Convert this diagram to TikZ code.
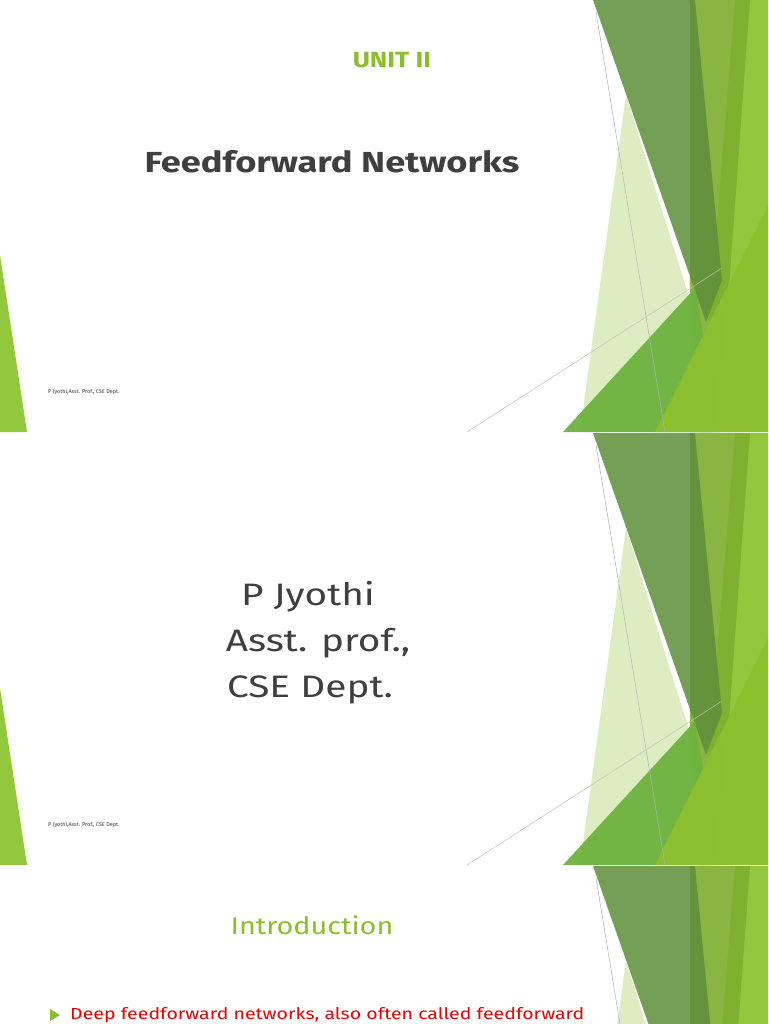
\documentclass[tikz,border=0pt]{standalone}
\usepackage{fontspec}
\setmainfont{Fira Sans}
\definecolor{dkg}{HTML}{5E8E3A}
\definecolor{mdg}{HTML}{7FAE2E}
\definecolor{brg}{HTML}{93C83E}
\definecolor{lig}{HTML}{C9E09A}
\definecolor{trg}{HTML}{6DB33F}
\definecolor{btr}{HTML}{8DC02F}
\definecolor{ttl}{HTML}{8BBE2D}
\definecolor{txt}{HTML}{3F3F3F}
\newcommand{\facetdecor}{%
  \fill[brg] (735,0) -- (768,0) -- (768,432) -- (700,432) -- cycle;
  \fill[mdg, opacity=.9] (690,0) -- (750,0) -- (728,300) -- (712,432) -- (690,432) -- cycle;
  \fill[dkg, opacity=.85] (593,0) -- (695,0) -- (722,280) -- (706,322) -- cycle;
  \fill[lig, opacity=.6] (626,95) -- (690,300) -- (700,432) -- (580,432) -- cycle;
  \fill[trg, opacity=.95] (563,432) -- (695,288) -- (720,432) -- cycle;
  \fill[btr, opacity=.95] (655,432) -- (768,205) -- (768,432) -- cycle;
  \draw[gray!60, line width=.5pt] (596,12) -- (665,432);
  \draw[gray!50, line width=.5pt] (467,432) -- (722,268);
  \fill[brg] (0,255) -- (27,432) -- (0,432) -- cycle;
}
\tikzset{foot/.style={font=\fontsize{5.5}{6}\selectfont, text=txt, anchor=west, inner sep=0},
  big/.style={font=\fontsize{31}{34}\selectfont, text=txt, xscale=1.25}}
\begin{document}
\begin{tikzpicture}[x=1pt,y=-1pt]
\useasboundingbox (0,0) rectangle (768,1024);
\fill[white] (0,0) rectangle (768,1024);
\begin{scope}
  \clip (0,0) rectangle (768,432);
  \facetdecor
\end{scope}
\begin{scope}[yshift=-433pt]
  \clip (0,0) rectangle (768,432);
  \facetdecor
\end{scope}
\begin{scope}[yshift=-866pt]
  \clip (0,0) rectangle (768,158);
  \facetdecor
\end{scope}
\node[xscale=1.2] (unit) at (392,60) {\fontsize{22}{26}\selectfont\bfseries\color{ttl}UNIT II};
\node[xscale=1.25] (title) at (332,162) {\fontsize{29}{34}\selectfont\bfseries\color{txt}Feedforward Networks};
\node[foot] (f1) at (48,392) {P Jyothi,Asst. Prof., CSE Dept.};
\node[big] (n1) at (308,597) {P Jyothi};
\node[big] (n2) at (318,643) {Asst. prof.,};
\node[big] (n3) at (310,690) {CSE Dept.};
\node[foot] (f2) at (48,825) {P Jyothi,Asst. Prof., CSE Dept.};
\node[xscale=1.2] (intro) at (312,925) {\fontsize{24}{28}\selectfont\color{ttl}Introduction};
\fill[ttl] (50,1009) -- (60,1015) -- (50,1021) -- cycle;
\node[anchor=west, inner sep=0, xscale=1.22] (b1) at (70,1015) {\fontsize{16}{19}\selectfont\color{red!90!black}Deep feedforward networks, also often called feedforward};
\end{tikzpicture}
\end{document}
